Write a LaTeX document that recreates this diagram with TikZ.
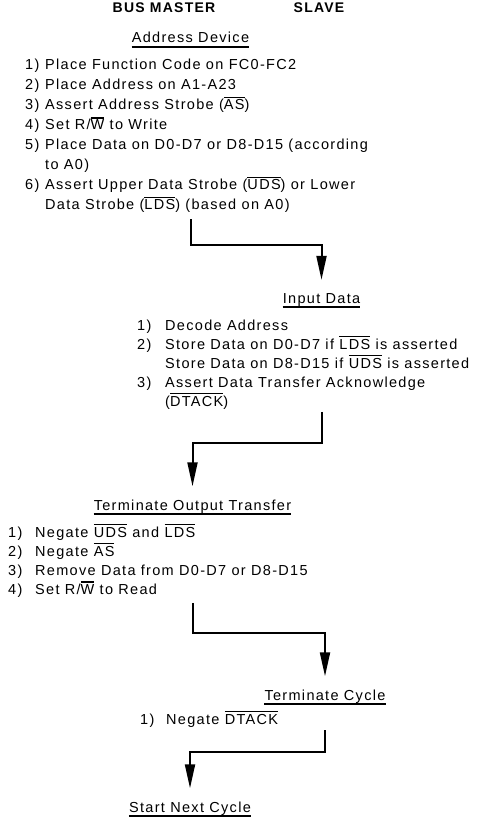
\documentclass[tikz,border=0pt]{standalone}
\usepackage{fontspec}
\setmainfont{Liberation Sans}[LetterSpace=9]
\usepackage{tikz}
\usetikzlibrary{arrows.meta, positioning}

% active-low signal name with a bar over it
\newsavebox\sigbox
\newcommand{\ovl}[1]{\sbox\sigbox{#1}\rlap{\rule[\dimexpr\ht\sigbox+1.5pt\relax]{\wd\sigbox}{1.3pt}}\usebox\sigbox}

\begin{document}
\begin{tikzpicture}[x=1pt, y=-1pt,
    role/.style={inner sep=0pt, anchor=base, font=\fontsize{14}{20}\selectfont\bfseries},
    phase/.style={inner sep=0pt, anchor=base, font=\fontsize{14.5}{20}\selectfont},
    steps/.style={inner sep=0pt, anchor=base west, align=left, font=\fontsize{14.5}{#1}\selectfont},
    uline/.style={draw=black, line width=1.6pt},
    flow/.style={draw=black, line width=2pt, -{Triangle[length=24pt, width=10pt]}}
]
    \useasboundingbox (0,0) rectangle (477,818);

    % Column titles
    \node[role] (MASTER) at (164,13) {BUS MASTER};
    \node[role] (SLAVE) at (319,13) {SLAVE};

    % Address Device (master)
    \node[phase] (ADDR) at (190.5,43) {Address Device};
    \draw[uline] ([yshift=-4pt]ADDR.base west) -- ([yshift=-4pt]ADDR.base east);
    \node[steps=20] (ADDRSTEPS) at (25,70) {\begin{tabular}[t]{@{}p{20pt}@{}l@{}}
        1) & Place Function Code on FC0-FC2\\
        2) & Place Address on A1-A23\\
        3) & Assert Address Strobe (\ovl{AS})\\
        4) & Set R/\ovl{W} to Write\\
        5) & Place Data on D0-D7 or D8-D15 (according\\
           & to A0)\\
        6) & Assert Upper Data Strobe (\ovl{UDS}) or Lower\\
           & Data Strobe (\ovl{LDS}) (based on A0)
    \end{tabular}};

    % Input Data (slave)
    \node[phase] (INPUT) at (321.5,303) {Input Data};
    \draw[uline] ([yshift=-4pt]INPUT.base west) -- ([yshift=-4pt]INPUT.base east);
    \node[steps=19] (INPUTSTEPS) at (137,330) {\begin{tabular}[t]{@{}p{28pt}@{}l@{}}
        1) & Decode Address\\
        2) & Store Data on D0-D7 if \ovl{LDS} is asserted\\
           & Store Data on D8-D15 if \ovl{UDS} is asserted\\
        3) & Assert Data Transfer Acknowledge\\
           & (\ovl{DTACK})
    \end{tabular}};

    % Terminate Output Transfer (master)
    \node[phase] (TERMOUT) at (192.5,510) {Terminate Output Transfer};
    \draw[uline] ([yshift=-4pt]TERMOUT.base west) -- ([yshift=-4pt]TERMOUT.base east);
    \node[steps=19] (TERMOUTSTEPS) at (8,537) {\begin{tabular}[t]{@{}p{27pt}@{}l@{}}
        1) & Negate \ovl{UDS} and \ovl{LDS}\\
        2) & Negate \ovl{AS}\\
        3) & Remove Data from D0-D7 or D8-D15\\
        4) & Set R/\ovl{W} to Read
    \end{tabular}};

    % Terminate Cycle (slave)
    \node[phase] (TERMCYC) at (325,700) {Terminate Cycle};
    \draw[uline] ([yshift=-4pt]TERMCYC.base west) -- ([yshift=-4pt]TERMCYC.base east);
    \node[steps=20] (TERMCYCSTEPS) at (140,724) {\begin{tabular}[t]{@{}p{26pt}@{}l@{}}
        1) & Negate \ovl{DTACK}
    \end{tabular}};

    % Start Next Cycle (master)
    \node[phase] (NEXT) at (190,812) {Start Next Cycle};
    \draw[uline] ([yshift=-4pt]NEXT.base west) -- ([yshift=-4pt]NEXT.base east);

    % Hand-offs between master and slave
    \draw[flow, shorten >=13pt] (ADDR |- ADDRSTEPS.south) ++(0,3) -- ++(0,26) -| (INPUT.north);
    \draw[flow, shorten >=13pt] (INPUT |- INPUTSTEPS.south) -- ++(0,31) -| (TERMOUT.north);
    \draw[flow, shorten >=13pt] (TERMOUT |- TERMOUTSTEPS.south) ++(0,3) -- ++(0,30) -| (TERMCYC.north);
    \draw[flow, shorten >=13pt] (TERMCYC |- TERMCYCSTEPS.south) -- ++(0,22) -| (NEXT.north);
\end{tikzpicture}
\end{document}
